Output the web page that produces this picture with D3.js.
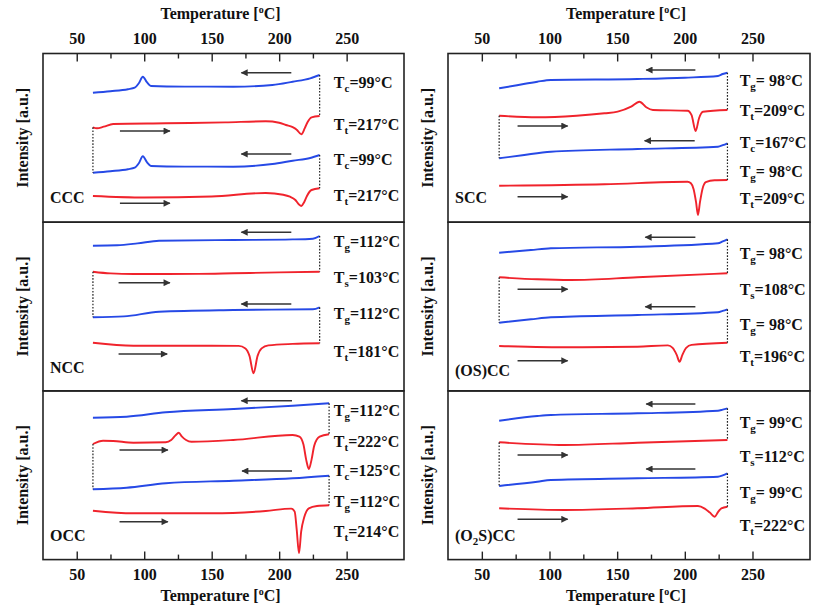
<!DOCTYPE html>
<html><head><meta charset="utf-8">
<script src="https://cdn.jsdelivr.net/npm/d3@7"></script>
<style>
body{margin:0;background:#fff}
svg text{font-family:"Liberation Serif","Times New Roman",serif;font-weight:bold;fill:#111}
</style>
</head><body><svg id="c" width="813" height="609"></svg>
<script>
// ---------- data ----------
const tempTicks = [50, 100, 150, 200, 250];
const tempMinorTicks = [75, 125, 175, 225];
const tempDomain = [25, 292.5];
const intensityDomain = [0, 168.7];

// CCC
const cccCool1 = [[62,129.5],[75,131],[88,133],[93,134.5],[96,139],[99,145.5],[102,140],[105,136.2],[130,135.6],[166,135.5],[195,137.2],[210,140.5],[223,143.9],[230,147.2]];
const cccHeat1 = [[62,94.9],[65,93.9],[70,95.5],[77,98.2],[116,98.9],[160,99.8],[190,100.9],[200,99.5],[205,97.2],[210,95],[213,92.5],[216.4,87.9],[219,94],[221,100],[224,104.9],[230,106.2]];
const cccCool2 = [[62,49.5],[75,51],[88,53],[93,54.5],[96,59],[99,66],[102,60],[105,56.2],[130,55.6],[166,55.5],[195,58.2],[210,61.5],[223,64.2],[230,67.2]];
const cccHeat2 = [[62,26.2],[100,24.7],[150,25.7],[190,29.2],[203,27.5],[208,25.5],[212,22.2],[214.5,18],[216.4,16.2],[218.5,20],[220.5,26],[224,32.2],[230,33.9]];
// NCC
const nccCool1 = [[62,145.2],[80,145.6],[95,147.5],[111,150.2],[166,150.9],[210,151.5],[225,152.2],[230,154.9]];
const nccHeat1 = [[62,119.2],[75,117.5],[92,116.9],[140,117],[166,117.6],[200,118.5],[230,119.2]];
const nccCool2 = [[62,73.6],[85,74.5],[111,79.2],[166,80.9],[225,81.6],[230,83.6]];
const nccHeat2 = [[62,48.2],[92,45.2],[150,45.2],[170,45],[175,42.5],[178,35],[181,17.6],[184,35],[187,42.5],[192,45.5],[210,47],[230,47.6]];
// OCC
const occCool1 = [[62,141.9],[87,142.9],[116,147.3],[166,150.6],[210,153.9],[237,156.3]];
const occHeat1 = [[62,115.6],[69.5,118.9],[77,118.6],[92,116.9],[116,117.3],[120,119.6],[123,124],[125.6,126.9],[128,123],[131,119.6],[135,117.9],[166,119.6],[210,124.6],[215,123],[218,115],[220,100],[222,90.6],[224,100],[226,114],[230,122.9],[237,125.3]];
const occCool2 = [[62,70.3],[87,71.9],[116,76.3],[166,78.9],[210,81.3],[237,83.9]];
const occHeat2 = [[62,48.9],[92,46.3],[150,46.3],[190,48.6],[209,51],[211.5,48],[213,30],[214.7,6.3],[216.3,28],[218.5,42],[222,51.3],[228,53.6],[237,54.3]];
// SCC
const sccCool1 = [[62.8,133.9],[76,137],[91,140.5],[101,142.2],[165,143.2],[200,144.5],[224.5,146.2],[228,148.2],[231.5,149.5]];
const sccHeat1 = [[62.8,106.5],[91,104.9],[120,106.5],[140.6,108.9],[150.4,110.5],[160.3,115.5],[166.5,120.5],[171.5,114.9],[176.4,112.2],[202,111.5],[205,107],[208,91.2],[210.5,104],[213.4,110.5],[231.5,112.2]];
const sccCool2 = [[62.8,63.9],[80,67],[101,70.5],[165,73.2],[224.5,75.5],[228,77],[231.5,78.9]];
const sccHeat2 = [[62.8,36.5],[140.6,37.9],[202,40.5],[204.5,39],[206.5,33],[208.3,20],[209.7,7.2],[211.2,20],[213,33],[215.5,40],[222,42],[231.5,42.2]];
// (OS)CC
const osccCool1 = [[62.8,138.2],[86.3,140.9],[101,142.6],[165,144.2],[224.5,147.6],[228,149.5],[231.5,151.6]];
const osccHeat1 = [[62.8,113.6],[91,111.6],[115.8,110.9],[165,113.6],[231.5,117.6]];
const osccCool2 = [[62.8,68.2],[86.3,71.6],[101,73.6],[165,75.9],[224.5,78.6],[228,80],[231.5,81.6]];
const osccHeat2 = [[62.8,44.9],[115.8,43.6],[165,44.2],[187.5,45.5],[191,43],[194,36],[196.1,29.2],[198.2,36],[201,43],[205,46],[231.5,48.2]];
// (O2S)CC
const o2sccCool1 = [[62.8,138.9],[91,143.6],[101,144.6],[165,146.3],[224.5,148.9],[228,150],[231.5,151.3]];
const o2sccHeat1 = [[62.8,117.3],[111,114.6],[165,116.9],[231.5,119.6]];
const o2sccCool2 = [[62.8,73.6],[91,77.9],[101,79.6],[165,81.3],[224.5,82.9],[228,84.2],[231.5,86.3]];
const o2sccHeat2 = [[62.8,51.3],[111,49.6],[165,51.3],[209.7,53.6],[214.7,51],[218.5,47],[222.1,42.9],[224.5,47.5],[227,51.3],[231.5,52.9]];

// arrows: [tFrom, tTo, intensity]
const cccArrows = [[209,172,149.5],[82,119,91.2],[209,172,68.2],[82,119,18.9]];
const nccArrows = [[209,172,158.6],[81,119,108.2],[209,172,86.9],[81,117,36.9]];
const occArrows = [[209.5,172,158.9],[81.7,117.5,109.6],[209.5,172.5,88.6],[81.7,117.5,37.9]];
const sccArrows = [[207.8,171.5,152.2],[76.4,113.4,96.2],[207.3,170.3,81.5],[76.4,113.4,25.5]];
const osccArrows = [[207.8,170.8,153.6],[76.4,113.4,101.6],[207.8,170.8,84.2],[76.4,113.4,30.2]];
const o2sccArrows = [[207.8,171.5,155.6],[76.4,113.4,104.6],[207.8,171.5,90.6],[76.4,113.4,40.3]];

// transition labels: [subscript, value, intensity]
const cccLabels = [["c","99",139.5],["t","217",98.2],["c","99",62.9],["t","217",27.2]];
const nccLabels = [["g","112",149.2],["s","103",113.2],["g","112",77.6],["t","181",39.2]];
const occLabels = [["g","112",148.9],["t","222",117.9],["c","125",89.6],["g","112",58.6],["t","214",27.9]];
const sccLabels = [["g"," 98",141.5],["t","209",112.2],["c","167",79.5],["g"," 98",50.5],["t","209",24]];
const osccLabels = [["g"," 98",137.6],["s","108",101.6],["g"," 98",66.9],["t","196",34.2]];
const o2sccLabels = [["g"," 99",137.3],["s","112",102.9],["g"," 99",66.9],["t","222",34.6]];

const sampleNames = ["CCC","NCC","OCC","SCC","(OS)CC","(O2S)CC"];

// ---------- layout ----------
const W = 813, H = 609;
const colX = [[43,404],[448,810]];
const rowTop = [53.5, 222.2, 390.9];
const panelH = 168.7;
const blue = "#2649e6", red = "#f0232c", arrowCol = "#333";
const labelT = 240.5;

const panels = [
  {col:0,row:0,curves:[cccCool1,cccHeat1,cccCool2,cccHeat2],arrows:cccArrows,labels:cccLabels,name:0,nameOff:19.5},
  {col:0,row:1,curves:[nccCool1,nccHeat1,nccCool2,nccHeat2],arrows:nccArrows,labels:nccLabels,name:1,nameOff:17.5},
  {col:0,row:2,curves:[occCool1,occHeat1,occCool2,occHeat2],arrows:occArrows,labels:occLabels,name:2,nameOff:18.5},
  {col:1,row:0,curves:[sccCool1,sccHeat1,sccCool2,sccHeat2],arrows:sccArrows,labels:sccLabels,name:3,nameOff:19.5},
  {col:1,row:1,curves:[osccCool1,osccHeat1,osccCool2,osccHeat2],arrows:osccArrows,labels:osccLabels,name:4,nameOff:15},
  {col:1,row:2,curves:[o2sccCool1,o2sccHeat1,o2sccCool2,o2sccHeat2],arrows:o2sccArrows,labels:o2sccLabels,name:5,nameOff:18.5}
];

const svg = d3.select("#c");
const defs = svg.append("defs");
defs.append("marker").attr("id","ah").attr("viewBox","0 0 10 10")
  .attr("refX",9).attr("refY",5).attr("markerUnits","userSpaceOnUse")
  .attr("markerWidth",8).attr("markerHeight",7).attr("orient","auto")
  .append("path").attr("d","M0,0L10,5L0,10z").attr("fill",arrowCol);

const xs = colX.map(r => d3.scaleLinear().domain(tempDomain).range(r));

// columns: axes, titles
colX.forEach((r, ci) => {
  const x = xs[ci];
  const cx = (r[0] + r[1]) / 2 - 3;
  const top = rowTop[0], bottom = rowTop[2] + panelH;
  const styleAxis = g => {
    g.select(".domain").remove();
    g.attr("color","#222");
    g.selectAll("line").attr("stroke-width",1.4);
    g.selectAll("text").style("font-size","16px").attr("fill","#111");
  };
  svg.append("g").attr("transform",`translate(0,${top})`)
    .call(d3.axisTop(x).tickValues(tempTicks).tickSize(-8).tickPadding(10)).call(styleAxis);
  svg.append("g").attr("transform",`translate(0,${top})`)
    .call(d3.axisTop(x).tickValues(tempMinorTicks).tickSize(-5).tickFormat("")).call(styleAxis);
  svg.append("g").attr("transform",`translate(0,${bottom})`)
    .call(d3.axisBottom(x).tickValues(tempTicks).tickSize(-8).tickPadding(9)).call(styleAxis);
  svg.append("g").attr("transform",`translate(0,${bottom})`)
    .call(d3.axisBottom(x).tickValues(tempMinorTicks).tickSize(-5).tickFormat("")).call(styleAxis);

  [[19, 0],[601, 0]].forEach(([yy]) => {
    const t = svg.append("text").attr("x",cx).attr("y",yy).attr("text-anchor","middle").style("font-size","16px");
    t.append("tspan").text("Temperature [");
    t.append("tspan").attr("dy",-6).style("font-size","10px").text("o");
    t.append("tspan").attr("dy",6).text("C]");
  });
});

const line = d3.line().curve(d3.curveMonotoneX);

panels.forEach(p => {
  const x = xs[p.col];
  const top = rowTop[p.row], bottom = top + panelH;
  const y = d3.scaleLinear().domain(intensityDomain).range([bottom, top]);
  const [x0, x1] = colX[p.col];
  const g = svg.append("g");

  // curves
  p.curves.forEach((c, i) => {
    g.append("path").attr("d", line.x(d => x(d[0])).y(d => y(d[1]))(c))
      .attr("fill","none").attr("stroke", i % 2 === 0 ? blue : red)
      .attr("stroke-width",1.9).attr("stroke-linejoin","round");
  });
  // dotted connectors between consecutive scans
  for (let i = 0; i < p.curves.length - 1; i++) {
    const a = p.curves[i], b = p.curves[i+1];
    const pa = i % 2 === 0 ? a[a.length-1] : a[0];
    const pb = i % 2 === 0 ? b[b.length-1] : b[0];
    g.append("line").attr("x1",x(pa[0])).attr("x2",x(pa[0]))
      .attr("y1",y(pa[1])).attr("y2",y(pb[1]))
      .attr("stroke","#222").attr("stroke-width",1.2).attr("stroke-dasharray","1.6,1.6");
  }
  // arrows
  p.arrows.forEach(a => {
    g.append("line").attr("x1",x(a[0])).attr("x2",x(a[1])).attr("y1",y(a[2])).attr("y2",y(a[2]))
      .attr("stroke",arrowCol).attr("stroke-width",1.4).attr("marker-end","url(#ah)");
  });
  // labels
  p.labels.forEach(l => {
    const t = g.append("text").attr("x", x(labelT)).attr("y", y(l[2]) + 5.5).style("font-size","16px");
    t.append("tspan").text("T");
    t.append("tspan").attr("dy",4).style("font-size","11px").text(l[0]);
    t.append("tspan").attr("dy",-4).text("=" + l[1] + "\u00B0C");
  });
  // sample name
  const nm = g.append("text").attr("x", x0 + 7).attr("y", bottom - p.nameOff).style("font-size","16px");
  if (p.name === 5) {
    nm.append("tspan").text("(O");
    nm.append("tspan").attr("dy",4).style("font-size","11px").text("2");
    nm.append("tspan").attr("dy",-4).text("S)CC");
  } else nm.text(sampleNames[p.name]);
  // y label
  const ly = (top + bottom) / 2;
  const lx = x0 - 15;
  g.append("text").attr("transform",`translate(${lx},${ly}) rotate(-90)`)
    .attr("text-anchor","middle").style("font-size","16px").text("Intensity [a.u.]");
  // frame
  g.append("rect").attr("x",x0).attr("y",top).attr("width",x1-x0).attr("height",panelH)
    .attr("fill","none").attr("stroke","#222").attr("stroke-width",1.6);
});
</script>
</body></html>
